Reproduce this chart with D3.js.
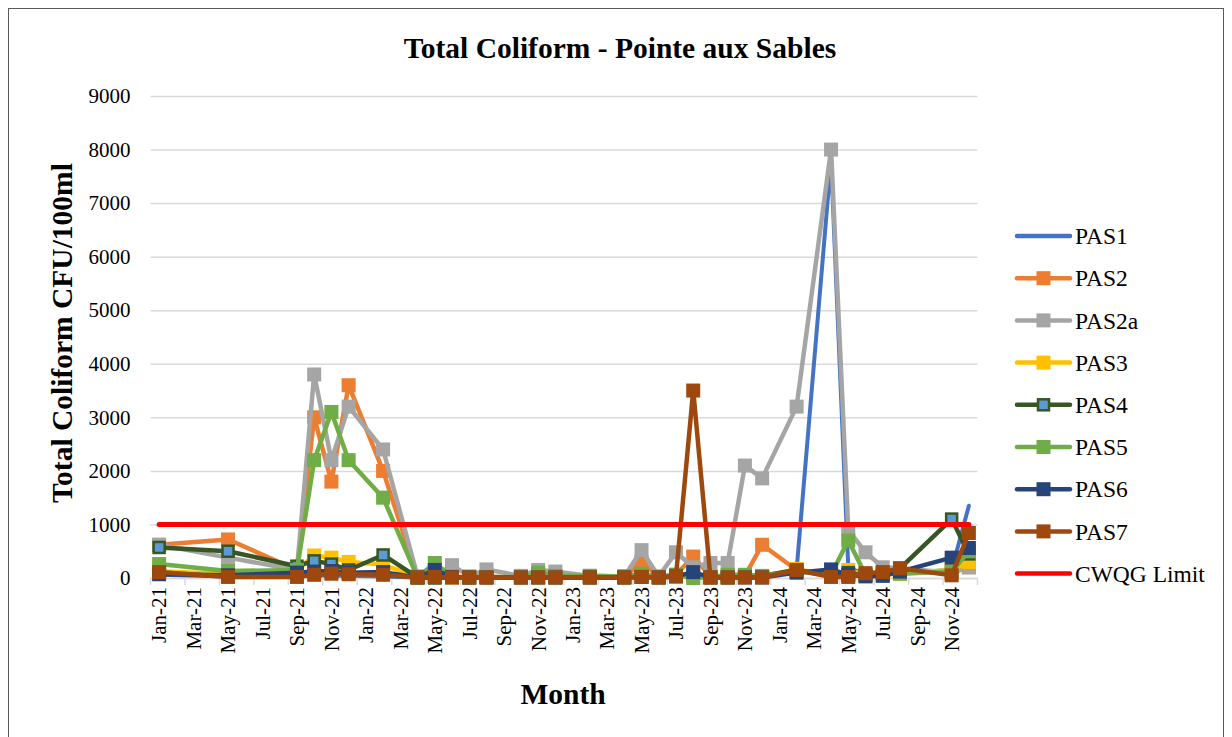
<!DOCTYPE html>
<html>
<head>
<meta charset="utf-8">
<script src="https://cdn.jsdelivr.net/npm/d3@7"></script>
<style>
  body { margin: 0; background: #fff; }
  svg { display: block; }
  svg text { font-family: "Liberation Serif", "Times New Roman", serif; fill: #000; }
</style>
</head>
<body>
<svg id="chart" width="1232" height="737"></svg>
<script>
// Sampling months (one value per station per month)
const sampleMonths = [
  '2021-01', '2021-05', '2021-09', '2021-10', '2021-11', '2021-12', '2022-02', '2022-04',
  '2022-05', '2022-06', '2022-07', '2022-08', '2022-10', '2022-11', '2022-12', '2023-02',
  '2023-04', '2023-05', '2023-06', '2023-07', '2023-08', '2023-09', '2023-10', '2023-11',
  '2023-12', '2024-02', '2024-04', '2024-05', '2024-06', '2024-07', '2024-08', '2024-11', '2024-12',
];

const PAS1 = [60, 30, 40, 50, 40, 40, 30, 10, 20, 10, 10, 10, 10, 10, 10, 10, 10, 20, 10, 20, 30, 10, 10, 10, 20, 150, 7800, 200, 60, 60, 100, 150, 1350];
const PAS2 = [620, 720, 150, 3000, 1800, 3600, 2000, 20, 30, 20, 20, 20, 20, 30, 20, 20, 20, 300, 20, 60, 400, 30, 30, 40, 620, 150, 30, 60, 60, 80, 120, 100, 200];
const PAS2a = [620, 380, 150, 3800, 2200, 3200, 2400, 30, 30, 240, 30, 160, 40, 150, 120, 40, 30, 520, 30, 480, 200, 280, 280, 2100, 1860, 3200, 8000, 900, 480, 200, 180, 100, 200];
const PAS3 = [120, 80, 150, 420, 380, 300, 250, 10, 20, 10, 10, 10, 10, 10, 10, 10, 10, 30, 10, 20, 30, 10, 10, 20, 20, 170, 40, 150, 50, 60, 80, 150, 300];
const PAS4 = [570, 500, 220, 320, 260, 150, 430, 10, 0, 10, 10, 10, 10, 20, 10, 10, 10, 40, 10, 40, 60, 10, 10, 40, 40, 150, 40, 100, 40, 60, 180, 1100, 450];
const PAS5 = [260, 130, 150, 2200, 3100, 2200, 1500, 10, 280, 20, 10, 20, 20, 100, 40, 40, 30, 80, 20, 60, 0, 20, 60, 60, 40, 120, 60, 700, 60, 100, 80, 120, 500];
const PAS6 = [70, 50, 100, 120, 130, 100, 110, 10, 150, 20, 10, 10, 10, 10, 10, 10, 10, 20, 10, 30, 110, 10, 10, 10, 10, 100, 160, 60, 30, 40, 120, 380, 560];
const PAS7 = [110, 20, 20, 60, 80, 70, 60, 10, 20, 10, 10, 10, 10, 10, 10, 10, 10, 20, 10, 40, 3500, 10, 10, 10, 10, 150, 20, 20, 90, 110, 180, 50, 840];
const CWQG_LIMIT = 1000;

const yTickValues = [0, 1000, 2000, 3000, 4000, 5000, 6000, 7000, 8000, 9000];
const axisStart = '2021-01';
const axisEnd = '2024-12';

const series = [
  { name: 'PAS1', values: PAS1, stroke: '#4472C4', fill: null, markerStroke: null },
  { name: 'PAS2', values: PAS2, stroke: '#ED7D31', fill: '#ED7D31', markerStroke: '#ED7D31' },
  { name: 'PAS2a', values: PAS2a, stroke: '#A5A5A5', fill: '#A5A5A5', markerStroke: '#A5A5A5' },
  { name: 'PAS3', values: PAS3, stroke: '#FFC000', fill: '#FFC000', markerStroke: '#FFC000' },
  { name: 'PAS4', values: PAS4, stroke: '#375623', fill: '#5B9BD5', markerStroke: '#375623' },
  { name: 'PAS5', values: PAS5, stroke: '#70AD47', fill: '#70AD47', markerStroke: '#70AD47' },
  { name: 'PAS6', values: PAS6, stroke: '#264478', fill: '#264478', markerStroke: '#264478' },
  { name: 'PAS7', values: PAS7, stroke: '#9E480E', fill: '#9E480E', markerStroke: '#9E480E' },
];

const parseMonth = d3.timeParse('%Y-%m');
const fmtKey = d3.timeFormat('%Y-%m');
const fmtLabel = d3.timeFormat('%b-%y');

const svg = d3.select('#chart');

// chart frame
svg.append('rect')
  .attr('x', 8.5).attr('y', 8.5)
  .attr('width', 1215).attr('height', 740)
  .attr('fill', '#fff').attr('stroke', '#595959').attr('stroke-width', 1);

const plot = { left: 150.5, top: 96, width: 827, height: 482 };
const g = svg.append('g').attr('transform', `translate(${plot.left},${plot.top})`);

// every month on the axis gets an equal slot (Excel month base unit)
const allMonths = d3.timeMonth
  .range(parseMonth(axisStart), d3.timeMonth.offset(parseMonth(axisEnd), 1))
  .map(fmtKey);
const x = d3.scaleBand().domain(allMonths).range([0, plot.width]);
const cx = (m) => x(m) + x.bandwidth() / 2;
const y = d3.scaleLinear().domain([0, 9000]).range([plot.height, 0]);

// Horizontal grid
g.append('g')
  .call(d3.axisLeft(y).tickValues(yTickValues).tickSize(-plot.width).tickFormat(() => ''))
  .call((grid) => {
    grid.select('.domain').remove();
    grid.selectAll('.tick line').attr('stroke', '#d9d9d9').attr('stroke-width', 1.5);
  });

// Y axis labels
g.append('g')
  .call(d3.axisLeft(y).tickValues(yTickValues).tickSize(0).tickPadding(20).tickFormat(d3.format('d')))
  .call((axis) => {
    axis.select('.domain').remove();
    axis.selectAll('.tick text').attr('font-size', '21px');
  });

// X axis: labels every second month, rotated
const labelMonths = allMonths.filter((_, i) => i % 2 === 0);
g.append('g')
  .attr('transform', `translate(0,${plot.height})`)
  .call(d3.axisBottom(x).tickValues(labelMonths).tickSize(0).tickFormat((m) => fmtLabel(parseMonth(m))))
  .call((axis) => {
    axis.select('.domain').attr('stroke', '#d9d9d9').attr('stroke-width', 1.5);
    axis.selectAll('.tick text')
      .attr('font-size', '21px')
      .attr('transform', 'rotate(-90)')
      .attr('text-anchor', 'end')
      .attr('x', -9).attr('y', 0).attr('dy', '0.35em');
  });

// X tick marks sit on slot boundaries
const boundaryTicks = labelMonths.map((m) => x(m)).concat([plot.width]);
g.append('g')
  .selectAll('line')
  .data(boundaryTicks)
  .join('line')
  .attr('x1', (d) => d).attr('x2', (d) => d)
  .attr('y1', plot.height).attr('y2', plot.height + 7)
  .attr('stroke', '#d9d9d9').attr('stroke-width', 1.5);

const lineGen = d3.line()
  .x((d) => cx(d.month))
  .y((d) => y(d.value));

const MARK = 14;

for (const s of series) {
  const pts = sampleMonths.map((m, i) => ({ month: m, value: s.values[i] }));
  g.append('path')
    .datum(pts)
    .attr('fill', 'none')
    .attr('stroke', s.stroke)
    .attr('stroke-width', s.name === 'PAS1' ? 4 : 4.5)
    .attr('stroke-linejoin', 'round')
    .attr('stroke-linecap', 'round')
    .attr('d', lineGen);
  if (!s.fill) continue;
  const inset = s.name === 'PAS4' ? 1.5 : 0;
  g.append('g')
    .selectAll('rect')
    .data(pts)
    .join('rect')
    .attr('x', (d) => cx(d.month) - MARK / 2 + inset)
    .attr('y', (d) => y(d.value) - MARK / 2 + inset)
    .attr('width', MARK - inset * 2)
    .attr('height', MARK - inset * 2)
    .attr('fill', s.fill)
    .attr('stroke', s.markerStroke)
    .attr('stroke-width', s.name === 'PAS4' ? 2.5 : 0);
}

// CWQG limit
g.append('path')
  .datum([{ month: sampleMonths[0], value: CWQG_LIMIT }, { month: axisEnd, value: CWQG_LIMIT }])
  .attr('fill', 'none')
  .attr('stroke', '#FF0000')
  .attr('stroke-width', 5)
  .attr('stroke-linecap', 'round')
  .attr('d', lineGen);

// Titles
svg.append('text')
  .attr('x', 620).attr('y', 58)
  .attr('text-anchor', 'middle')
  .attr('font-size', '29.5px').attr('font-weight', 'bold')
  .text('Total Coliform - Pointe aux Sables');

svg.append('text')
  .attr('transform', 'translate(72,333) rotate(-90)')
  .attr('text-anchor', 'middle')
  .attr('font-size', '29.5px').attr('font-weight', 'bold')
  .text('Total Coliform CFU/100ml');

svg.append('text')
  .attr('x', 563).attr('y', 704)
  .attr('text-anchor', 'middle')
  .attr('font-size', '29.5px').attr('font-weight', 'bold')
  .text('Month');

// Legend
const legendItems = series.concat([{ name: 'CWQG Limit', stroke: '#FF0000', fill: null }]);
const legend = svg.append('g').attr('transform', 'translate(1016,236)');
legendItems.forEach((s, i) => {
  const row = legend.append('g').attr('transform', `translate(0,${i * 42.2})`);
  row.append('line')
    .attr('x1', 1).attr('x2', 54)
    .attr('stroke', s.stroke)
    .attr('stroke-width', 4.5)
    .attr('stroke-linecap', 'round');
  if (s.fill) {
    const inset = s.name === 'PAS4' ? 1.5 : 0;
    row.append('rect')
      .attr('x', 27.5 - MARK / 2 + inset).attr('y', -MARK / 2 + inset)
      .attr('width', MARK - inset * 2).attr('height', MARK - inset * 2)
      .attr('fill', s.fill)
      .attr('stroke', s.markerStroke)
      .attr('stroke-width', s.name === 'PAS4' ? 2.5 : 0);
  }
  row.append('text')
    .attr('x', 59).attr('dy', '0.35em')
    .attr('font-size', '23.5px')
    .text(s.name);
});
</script>
</body>
</html>
